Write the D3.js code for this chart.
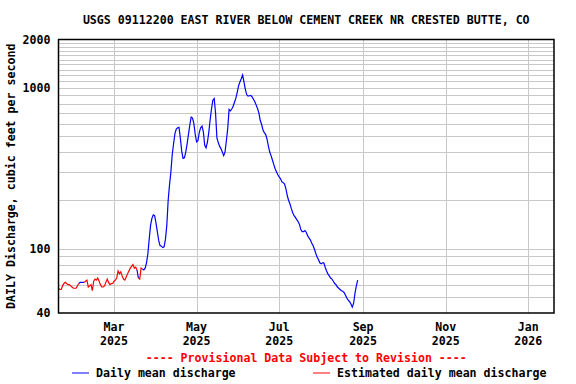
<!DOCTYPE html>
<html>
<head>
<meta charset="utf-8">
<script src="https://cdn.jsdelivr.net/npm/d3@7"></script>
<style>
  body { margin: 0; background: #fff; }
  svg text { font-family: "DejaVu Sans Mono", monospace; font-weight: bold; font-size: 11.6px; }
</style>
</head>
<body>
<div id="chart"></div>
<script>
// Daily mean discharge, cfs, one value per day starting on startDate
var startDate = "2025-01-19";
var flow = [
  57, 56, 56, 59, 61, 62, 61, 60, 60, 59,
  58, 57, 57, 57, 59, 61, 62, 62, 62, 62,
  63, 64, 58, 59, 60, 55, 63, 65, 64, 66,
  63, 60, 58, 58, 59, 62, 65, 62, 60, 61,
  61, 63, 64, 66, 73, 70, 72, 68, 65, 64,
  67, 70, 73, 76, 78, 80, 76, 77, 74, 66,
  65, 76, 75, 74, 76, 82, 93, 115, 140, 155,
  163, 161, 145, 128, 113, 105, 104, 102, 103, 115,
  140, 200, 250, 300, 385, 450, 520, 555, 565, 570,
  490, 405, 365, 368, 400, 450, 515, 590, 660, 650,
  600, 515, 462, 470, 530, 565, 580, 534, 440, 425,
  460, 530, 632, 740, 840, 860, 700, 490, 458, 435,
  420, 400, 380, 400, 470, 560, 735, 720, 740, 770,
  815, 862, 940, 1030, 1090, 1140, 1204, 1090, 980, 910,
  890, 895, 900, 880, 851, 820, 785, 745, 700, 630,
  595, 550, 528, 515, 482, 436, 400, 380, 357, 335,
  315, 302, 289, 280, 273, 261, 258, 253, 236, 214,
  200, 190, 178, 168, 161, 157, 152, 148, 142, 132,
  128, 128, 130, 127, 121, 117, 114, 109, 105, 100,
  94, 89, 86, 82, 81, 82, 82, 77, 73, 70,
  68, 66, 65, 63, 61, 60, 58, 57, 56, 55,
  54.6, 53.5, 51.5, 49.5, 48, 47, 45.5, 43.5, 46, 53,
  59, 64
];

// Periods flagged as estimated (drawn in red)
var estimatedRanges = [
  ["2025-01-19", "2025-02-03"],
  ["2025-02-08", "2025-03-18"],
  ["2025-03-20", "2025-03-22"]
];

var monthTicks = ["2025-03-01", "2025-05-01", "2025-07-01", "2025-09-01", "2025-11-01", "2026-01-01"];
var yTicks = [40, 100, 1000, 2000];
var yGrid = [50, 60, 70, 80, 90, 100, 200, 300, 400, 500, 600, 700, 800, 900,
  1000, 1100, 1200, 1300, 1400, 1500, 1600, 1700, 1800, 1900];

var width = 576, height = 384;
var plotL = 58.5, plotR = 554, plotT = 39.5, plotB = 313;

var parse = d3.utcParse("%Y-%m-%d");
var start = parse(startDate);

var points = flow.map(function(v, i) {
  var date = d3.utcDay.offset(start, i);
  var est = estimatedRanges.some(function(r) { return date >= parse(r[0]) && date <= parse(r[1]); });
  return { date: date, value: v, est: est };
});

var x = d3.scaleUtc()
  .domain([parse("2025-01-19"), parse("2026-01-20")])
  .range([plotL, plotR]);

var y = d3.scaleLog()
  .domain([40, 2000])
  .range([plotB, plotT]);

var svg = d3.select("#chart").append("svg")
  .attr("width", width)
  .attr("height", height);

// Title
svg.append("text")
  .attr("x", (plotL + plotR) / 2)
  .attr("y", 24)
  .attr("text-anchor", "middle")
  .text("USGS 09112200 EAST RIVER BELOW CEMENT CREEK NR CRESTED BUTTE, CO");

// Horizontal grid
svg.append("g")
  .attr("transform", `translate(${plotL},0)`)
  .call(d3.axisLeft(y).tickValues(yGrid).tickSize(-(plotR - plotL)).tickFormat(""))
  .call(g => g.select(".domain").remove())
  .call(g => g.selectAll("line").attr("stroke", "#c8c8c8").attr("shape-rendering", "crispEdges"));

// Vertical grid
svg.append("g")
  .attr("transform", `translate(0,${plotB})`)
  .call(d3.axisBottom(x).tickValues(monthTicks.map(parse)).tickSize(-(plotB - plotT)).tickFormat(""))
  .call(g => g.select(".domain").remove())
  .call(g => g.selectAll("line").attr("stroke", "#c8c8c8").attr("shape-rendering", "crispEdges"));

// Y tick labels
svg.append("g")
  .attr("transform", `translate(${plotL},0)`)
  .call(d3.axisLeft(y).tickValues(yTicks).tickSize(0).tickPadding(8).tickFormat(d3.format("d")))
  .call(g => g.select(".domain").remove())
  .call(g => g.attr("font-size", null).attr("font-family", null))
  .call(g => g.selectAll("text").attr("fill", "#000"));

// X tick labels, two lines
var fmtMon = d3.utcFormat("%b"), fmtYear = d3.utcFormat("%Y");
var xLab = svg.append("g")
  .selectAll("text")
  .data(monthTicks.map(parse))
  .join("text")
  .attr("text-anchor", "middle")
  .attr("x", d => x(d))
  .attr("y", 331);
xLab.append("tspan").attr("x", d => x(d)).text(d => fmtMon(d));
xLab.append("tspan").attr("x", d => x(d)).attr("dy", 14).text(d => fmtYear(d));

// Y axis title
svg.append("text")
  .attr("transform", `translate(15,${(plotT + plotB) / 2}) rotate(-90)`)
  .attr("text-anchor", "middle")
  .text("DAILY Discharge, cubic feet per second");

// Data lines, split into runs by estimated flag
var line = d3.line().x(d => x(d.date)).y(d => y(d.value));
var runs = [];
points.forEach(function(p, i) {
  if (i === 0 || p.est !== points[i - 1].est) {
    var run = { est: p.est, pts: [] };
    if (i > 0) run.pts.push(points[i - 1]);
    runs.push(run);
  }
  runs[runs.length - 1].pts.push(p);
});

svg.append("g")
  .selectAll("path")
  .data(runs)
  .join("path")
  .attr("fill", "none")
  .attr("stroke", d => d.est ? "#ff0000" : "#0000ff")
  .attr("stroke-width", 1.2)
  .attr("d", d => line(d.pts));

// Frame
svg.append("rect")
  .attr("x", plotL)
  .attr("y", plotT)
  .attr("width", plotR - plotL)
  .attr("height", plotB - plotT)
  .attr("fill", "none")
  .attr("stroke", "#000")
  .attr("stroke-width", 1.5);

// Provisional note
svg.append("text")
  .attr("x", (plotL + plotR) / 2)
  .attr("y", 362)
  .attr("text-anchor", "middle")
  .attr("fill", "#ff0000")
  .text("---- Provisional Data Subject to Revision ----");

// Legend
var legend = [
  { label: "Daily mean discharge", color: "#0000ff", x: 72 },
  { label: "Estimated daily mean discharge", color: "#ff0000", x: 313 }
];
var lg = svg.append("g").selectAll("g").data(legend).join("g");
lg.append("line")
  .attr("x1", d => d.x).attr("x2", d => d.x + 17)
  .attr("y1", 373).attr("y2", 373)
  .attr("stroke", d => d.color)
  .attr("stroke-width", 1);
lg.append("text")
  .attr("x", d => d.x + 24)
  .attr("y", 377)
  .text(d => d.label);
</script>
</body>
</html>
